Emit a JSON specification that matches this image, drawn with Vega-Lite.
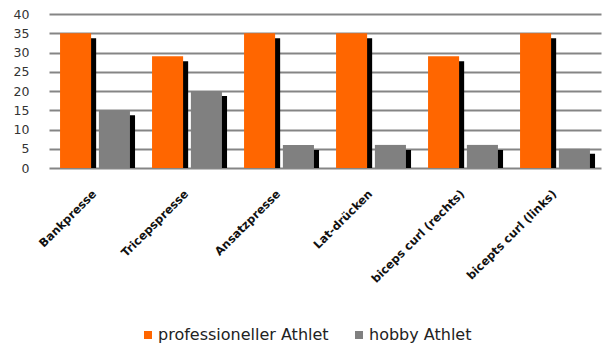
{
  "$schema": "https://vega.github.io/schema/vega-lite/v6.json",
  "autosize": "none",
  "width": 552,
  "height": 154,
  "padding": {"left": 49, "top": 14, "right": 1, "bottom": 177},
  "background": "white",
  "config": {
    "view": {"stroke": null},
    "font": "DejaVu Sans"
  },
  "data": {
    "values": [
      {"uebung": "Bankpresse", "gruppe": "professioneller Athlet", "wert": 35},
      {"uebung": "Bankpresse", "gruppe": "hobby Athlet", "wert": 15},
      {"uebung": "Tricepspresse", "gruppe": "professioneller Athlet", "wert": 29},
      {"uebung": "Tricepspresse", "gruppe": "hobby Athlet", "wert": 20},
      {"uebung": "Ansatzpresse", "gruppe": "professioneller Athlet", "wert": 35},
      {"uebung": "Ansatzpresse", "gruppe": "hobby Athlet", "wert": 6},
      {"uebung": "Lat-drücken", "gruppe": "professioneller Athlet", "wert": 35},
      {"uebung": "Lat-drücken", "gruppe": "hobby Athlet", "wert": 6},
      {"uebung": "biceps curl (rechts)", "gruppe": "professioneller Athlet", "wert": 29},
      {"uebung": "biceps curl (rechts)", "gruppe": "hobby Athlet", "wert": 6},
      {"uebung": "bicepts curl (links)", "gruppe": "professioneller Athlet", "wert": 35},
      {"uebung": "bicepts curl (links)", "gruppe": "hobby Athlet", "wert": 5}
    ]
  },
  "encoding": {
    "x": {
      "field": "uebung",
      "type": "nominal",
      "sort": null,
      "scale": {"paddingInner": 0.24, "paddingOuter": 0.12},
      "axis": {
        "title": null,
        "domain": false,
        "ticks": false,
        "labelAngle": -45,
        "labelAlign": "right",
        "labelBaseline": "middle",
        "labelFontSize": 11.5,
        "labelFontWeight": "bold",
        "labelColor": "#111",
        "labelPadding": 24
      }
    },
    "y": {
      "field": "wert",
      "type": "quantitative",
      "scale": {"domain": [0, 40]},
      "axis": {
        "title": null,
        "domain": false,
        "ticks": false,
        "values": [0, 5, 10, 15, 20, 25, 30, 35, 40],
        "gridColor": "#858585",
        "gridWidth": 1.8,
        "gridOpacity": 1,
        "labelFontSize": 12.5,
        "labelColor": "#333",
        "labelPadding": 20
      }
    }
  },
  "resolve": {"scale": {"xOffset": "independent"}},
  "layer": [
    {
      "mark": {"type": "bar", "color": "black", "yOffset": 5, "clip": true},
      "encoding": {
        "xOffset": {
          "field": "gruppe",
          "type": "nominal",
          "sort": ["professioneller Athlet", "hobby Athlet"],
          "scale": {"paddingInner": 0.2, "paddingOuter": 0, "range": [5, 75]}
        }
      }
    },
    {
      "mark": {"type": "bar"},
      "encoding": {
        "xOffset": {
          "field": "gruppe",
          "type": "nominal",
          "sort": ["professioneller Athlet", "hobby Athlet"],
          "scale": {"paddingInner": 0.2, "paddingOuter": 0}
        },
        "color": {
          "field": "gruppe",
          "type": "nominal",
          "sort": ["professioneller Athlet", "hobby Athlet"],
          "scale": {"domain": ["professioneller Athlet", "hobby Athlet"], "range": ["#FF6600", "#808080"]},
          "legend": {
            "title": null,
            "orient": "none",
            "direction": "horizontal",
            "legendX": 91,
            "legendY": 313,
            "symbolType": "square",
            "symbolSize": 64,
            "symbolStrokeWidth": 0,
            "symbolOpacity": 1,
            "labelFontSize": 16,
            "labelColor": "#222",
            "labelOffset": 2,
            "labelLimit": 400,
            "columnPadding": 22
          }
        }
      }
    }
  ]
}
